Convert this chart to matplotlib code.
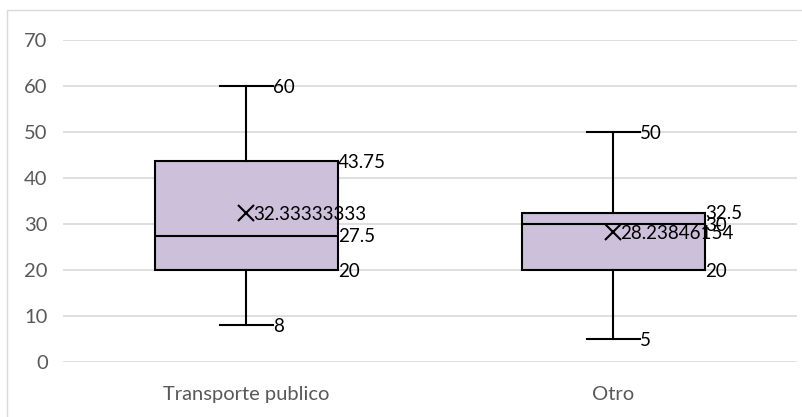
import matplotlib.pyplot as plt
from matplotlib.patches import Rectangle

plt.rcParams['font.family'] = ['Lato', 'DejaVu Sans']

categories = ['Transporte publico', 'Otro']
whis_lo = [8, 5]
q1 = [20, 20]
median = [27.5, 30]
q3 = [43.75, 32.5]
whis_hi = [60, 50]
mean = [32.33333333, 28.23846154]
yticks = [0, 10, 20, 30, 40, 50, 60, 70]

stats = []
for i in range(len(categories)):
    stats.append(dict(label=categories[i], whislo=whis_lo[i], q1=q1[i], med=median[i],
                      q3=q3[i], whishi=whis_hi[i], mean=mean[i], fliers=[]))

fig = plt.figure(figsize=(8.03, 4.17), dpi=100)
ax = fig.add_axes([63 / 803, 1 - 362 / 417, (797 - 63) / 803, (362 - 40) / 417])

pos = [0, 1]
ax.bxp(stats, positions=pos, widths=0.5, capwidths=0.145, patch_artist=True, showmeans=True,
       boxprops=dict(facecolor='#CCC0DA', edgecolor='black', linewidth=1.5),
       medianprops=dict(color='black', linewidth=1.5),
       whiskerprops=dict(color='black', linewidth=1.5),
       capprops=dict(color='black', linewidth=1.5),
       meanprops=dict(marker='x', markeredgecolor='black', markersize=11, markeredgewidth=1.5),
       zorder=3)

ax.set_xlim(-0.5, 1.5)
ax.set_ylim(0, 70)
ax.set_yticks(yticks)
ax.grid(axis='y', color='#D9D9D9', linewidth=1.2, zorder=0)
ax.set_axisbelow(True)
for s in ax.spines.values():
    s.set_visible(False)
ax.tick_params(axis='both', length=0, labelcolor='#595959', labelsize=14.5)
ax.tick_params(axis='y', pad=11)
ax.tick_params(axis='x', pad=17)

lab = dict(fontsize=13.5, color='black', va='center', ha='left', textcoords='offset points', zorder=5)
for i, x in enumerate(pos):
    # whisker ends, labels right of the caps
    for v in (whis_lo[i], whis_hi[i]):
        ax.annotate(f'{v:g}', (x + 0.0725, v), xytext=(0, -1), **lab)
    # quartiles and median, labels right of the box
    for v in (q1[i], median[i], q3[i]):
        ax.annotate(f'{v:g}', (x + 0.25, v), xytext=(0, -1), **lab)
    ax.annotate(f'{mean[i]:.10g}', (x, mean[i]), xytext=(5, -1), **lab)

fig.add_artist(Rectangle((7 / 803, -0.1), 1.1, 1 - 10 / 417 + 0.1, transform=fig.transFigure,
                         fill=False, edgecolor='#D9D9D9', linewidth=1))

fig.savefig('out.png', dpi=100)
